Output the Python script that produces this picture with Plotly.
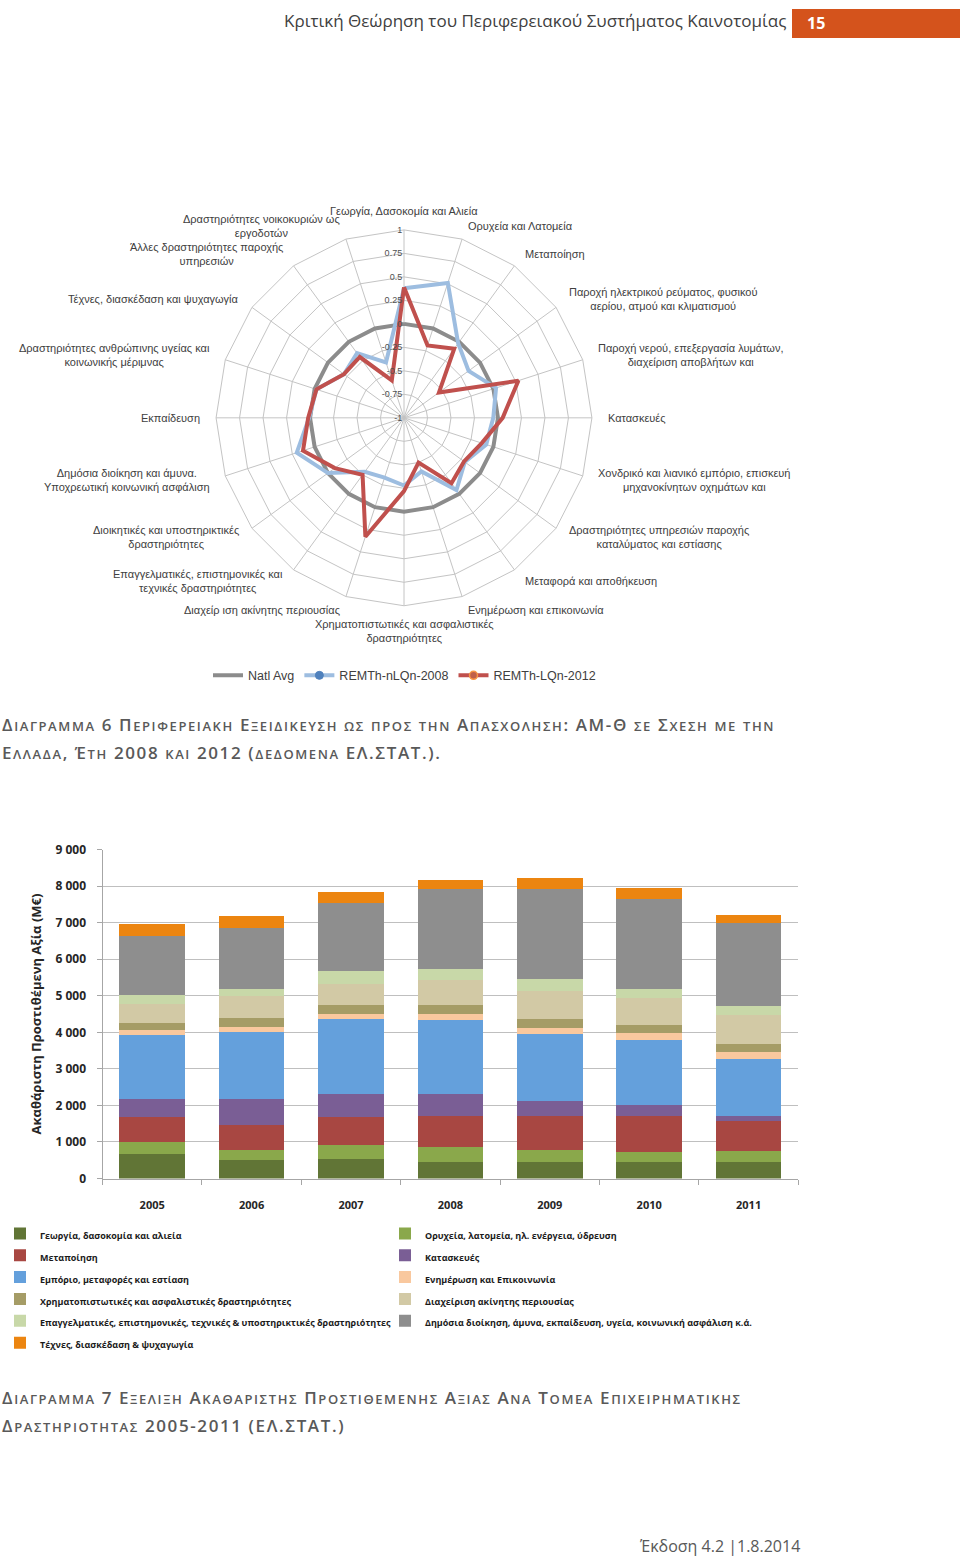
import math
import re
import plotly.graph_objects as go

# ---------------- Radar data (Διάγραμμα 6) ----------------
radar_categories = [
    "Γεωργία, Δασοκομία και Αλιεία",
    "Ορυχεία και Λατομεία",
    "Μεταποίηση",
    "Παροχή ηλεκτρικού ρεύματος, φυσικού<br>αερίου, ατμού και κλιματισμού",
    "Παροχή νερού, επεξεργασία λυμάτων,<br>διαχείριση αποβλήτων και",
    "Κατασκευές",
    "Χονδρικό και λιανικό εμπόριο, επισκευή<br>μηχανοκίνητων οχημάτων και",
    "Δραστηριότητες υπηρεσιών παροχής<br>καταλύματος και εστίασης",
    "Μεταφορά και αποθήκευση",
    "Ενημέρωση και επικοινωνία",
    "Χρηματοπιστωτικές και ασφαλιστικές<br>δραστηριότητες",
    "Διαχείρ ιση ακίνητης περιουσίας",
    "Επαγγελματικές, επιστημονικές και<br>τεχνικές δραστηριότητες",
    "Διοικητικές και υποστηρικτικές<br>δραστηριότητες",
    "Δημόσια διοίκηση και άμυνα.<br>Υποχρεωτική κοινωνική ασφάλιση",
    "Εκπαίδευση",
    "Δραστηριότητες ανθρώπινης υγείας και<br>κοινωνικής μέριμνας",
    "Τέχνες, διασκέδαση και ψυχαγωγία",
    "Άλλες δραστηριότητες παροχής<br>υπηρεσιών",
    "Δραστηριότητες νοικοκυριών ως<br>εργοδοτών",
]
natl_avg = [0] * 20
remth_2008 = [0.38, 0.51, -0.02, -0.15, 0.03, -0.05, -0.08, -0.20, -0.05, -0.40,
              -0.28, -0.33, -0.29, 0.00, 0.20, 0.01, -0.02, -0.21, -0.15, -0.38]
remth_2012 = [0.39, -0.19, -0.09, -0.54, 0.28, 0.05, -0.13, -0.21, -0.14, -0.50,
              -0.22, 0.33, -0.25, -0.09, 0.13, 0.02, -0.02, -0.21, -0.20, -0.58]
radial_ticks = [-1, -0.75, -0.5, -0.25, 0, 0.25, 0.5, 0.75, 1]

# ---------------- Bar data (Διάγραμμα 7) ----------------
years = ["2005", "2006", "2007", "2008", "2009", "2010", "2011"]
sector_names = [
    "Γεωργία, δασοκομία και αλιεία",
    "Ορυχεία, λατομεία, ηλ. ενέργεια, ύδρευση",
    "Μεταποίηση",
    "Κατασκευές",
    "Εμπόριο, μεταφορές και εστίαση",
    "Ενημέρωση και Επικοινωνία",
    "Χρηματοπιστωτικές και ασφαλιστικές δραστηριότητες",
    "Διαχείριση ακίνητης περιουσίας",
    "Επαγγελματικές, επιστημονικές, τεχνικές & υποστηρικτικές δραστηριότητες",
    "Δημόσια διοίκηση, άμυνα, εκπαίδευση, υγεία, κοινωνική ασφάλιση κ.ά.",
    "Τέχνες, διασκέδαση & ψυχαγωγία",
]
agri = [680, 500, 547, 455, 455, 455, 455]
mining = [320, 273, 364, 410, 337, 274, 292]
manuf = [685, 702, 774, 848, 921, 984, 829]
constr = [483, 692, 638, 601, 418, 291, 137]
trade = [1767, 1840, 2031, 2031, 1822, 1794, 1548]
info = [119, 137, 146, 164, 164, 192, 200]
finance = [209, 246, 237, 228, 237, 200, 219]
realestate = [519, 592, 592, 701, 765, 747, 783]
professional = [246, 209, 337, 301, 346, 255, 255]
public = [1603, 1676, 1876, 2186, 2460, 2459, 2278]
arts = [328, 328, 292, 255, 300, 301, 228]
sector_values = [agri, mining, manuf, constr, trade, info, finance,
                 realestate, professional, public, arts]
sector_colors = ["#617536", "#8aa84b", "#a84742", "#7a5e95", "#64a0dc", "#f9c89e",
                 "#a59c66", "#d2c9a5", "#c8d8a8", "#8e8e8e", "#ec8510"]

W, H = 960, 1558
# the capture maps figure y to picture y as about 8 + 0.9895*y
OFF, SCALE = 8.0, 0.9895


def fy(y_page):
    return (y_page - OFF) / SCALE


def py(y_page):
    """picture pixel (from top) -> paper fraction"""
    return (H - fy(y_page)) / H


fig = go.Figure()

theta_closed = radar_categories + [radar_categories[0]]
fig.add_trace(go.Scatterpolar(
    r=natl_avg + [natl_avg[0]], theta=theta_closed,
    mode="lines", name="Natl Avg", line=dict(color="#8c8c8c", width=4),
    legend="legend"))
fig.add_trace(go.Scatterpolar(
    r=remth_2008 + [remth_2008[0]], theta=theta_closed,
    mode="lines+markers", name="REMTh-nLQn-2008",
    line=dict(color="#9dbde0", width=4),
    marker=dict(color="#4f81bd", size=8, line=dict(color="#4f81bd", width=1)),
    legend="legend"))
fig.add_trace(go.Scatterpolar(
    r=remth_2012 + [remth_2012[0]], theta=theta_closed,
    mode="lines+markers", name="REMTh-LQn-2012",
    line=dict(color="#c0504d", width=4),
    marker=dict(color="#c0604a", size=8, line=dict(color="#f79646", width=1.5)),
    legend="legend"))

for name, vals, col in zip(sector_names, sector_values, sector_colors):
    fig.add_trace(go.Bar(x=years, y=vals,
                         name=f"<span style='font-size:9px'>{name}</span>",
                         marker=dict(color=col, line=dict(width=0)),
                         legend="legend2"))

cx, cy, R = 404, 417, 190
cyf = fy(cy)
fig.update_layout(
    polar=dict(
        domain=dict(x=[(cx - R) / W, (cx + R) / W], y=[(H - cyf - R) / H, (H - cyf + R) / H]),
        bgcolor="white",
        gridshape="linear",
        angularaxis=dict(direction="clockwise", rotation=90, type="category",
                         gridcolor="#c4c4c4", gridwidth=1, showline=True,
                         linecolor="#c4c4c4", linewidth=1, ticks="",
                         showticklabels=False),
        radialaxis=dict(range=[-1, 1], tickvals=radial_ticks,
                        ticktext=[f"{v:g}" for v in radial_ticks],
                        angle=90, tickangle=90, side="counterclockwise",
                        showline=False, ticks="",
                        gridcolor="#c4c4c4", gridwidth=1,
                        tickfont=dict(family="Liberation Sans, Arial", size=9, color="#505050")),
    ),
)

fig.update_layout(
    barmode="stack", bargap=0.34,
    xaxis=dict(domain=[102.5 / W, 798.3 / W], anchor="y", type="category",
               showline=True, linecolor="#a6a6a6", ticks="outside", tickson="boundaries",
               ticklen=5, tickcolor="#a6a6a6", showgrid=False, ticklabelstandoff=16,
               tickfont=dict(family="Open Sans, Lato, sans-serif", size=11, color="#262626", weight="bold")),
    yaxis=dict(domain=[py(1178), py(849)], anchor="x", range=[0, 9000], dtick=1000,
               tickformat=",d", showline=True, linecolor="#a6a6a6", ticks="outside",
               ticklen=5, tickcolor="#a6a6a6", gridcolor="#bfbfbf", zeroline=False,
               ticklabelstandoff=8,
               tickfont=dict(family="Open Sans, Lato, sans-serif", size=12, color="#262626", weight="bold"),
               title=dict(text="Ακαθάριστη Προστιθέμενη Αξία (Μ€)", standoff=10,
                          font=dict(family="Open Sans, Lato, sans-serif", size=13, color="#262626", weight="bold"))),
    separators=". ",
)

fig.update_layout(
    width=W, height=H, margin=dict(l=0, r=0, t=0, b=0),
    paper_bgcolor="white", plot_bgcolor="white",
    showlegend=True,
    legend=dict(orientation="h", x=208 / W, xanchor="left", y=py(660), yanchor="top",
                font=dict(family="Liberation Sans, Arial", size=12.5, color="#404040"),
                bgcolor="rgba(0,0,0,0)", traceorder="normal", itemwidth=30),
    legend2=dict(orientation="h", x=0, xanchor="left", y=py(1217), yanchor="top",
                 entrywidth=340, entrywidthmode="pixels", traceorder="normal", itemwidth=30,
                 font=dict(family="Open Sans, Lato, sans-serif", size=14.5, color="#1a1a1a", weight="bold"),
                 bgcolor="rgba(0,0,0,0)"),
)

annotations = []
label_font = dict(family="Liberation Sans Narrow, Arial Narrow, Liberation Sans, Arial", size=11, color="#404040")
n = len(radar_categories)
for i, lab in enumerate(radar_categories):
    a = math.radians(360 * i / n)
    s, c = math.sin(a), math.cos(a)
    if abs(s) < 0.05 and c > 0:
        x, y, xa, ya = cx, cy - R - 17, "center", "middle"
    elif abs(s) < 0.05 and c < 0:
        x, y, xa, ya = cx, cy + R + 8, "center", "top"
    else:
        x = cx + (R + 12) * s
        y = cy - (R + 12) * c
        xa = "left" if s > 0 else "right"
        ya = "middle"
    annotations.append(dict(text=lab, xref="paper", yref="paper", x=x / W, y=py(y),
                            xanchor=xa, yanchor=ya, align="center", showarrow=False,
                            font=label_font))


def smallcaps(text, big=17, small=13, ls=1.6):
    runs = re.findall(r"[a-zα-ωάέήίόύώϊϋΐΰς]+|[^a-zα-ωάέήίόύώϊϋΐΰς]+", text)
    out = []
    for r_ in runs:
        if r_[0].islower():
            out.append(f"<span style='font-size:{small}px;letter-spacing:{ls}px'>{r_.upper()}</span>")
        else:
            out.append(f"<span style='font-size:{big}px;letter-spacing:{ls}px'>{r_}</span>")
    return "".join(out)


cap_font = dict(family="Open Sans, Lato, sans-serif", size=17, color="#595959", weight=600)
captions = [
    ("Διαγραμμα 6 Περιφερειακη Εξειδικευση ως προς την Απασχοληση: ΑΜ-Θ σε Σχεση με την", 724),
    ("Ελλαδα, Έτη 2008 και 2012 (δεδομενα ΕΛ.ΣΤΑΤ.).", 752),
    ("Διαγραμμα 7 Εξελιξη Ακαθαριστης Προστιθεμενης Αξιας Ανα Τομεα Επιχειρηματικης", 1397),
    ("Δραστηριοτητας 2005-2011 (ΕΛ.ΣΤΑΤ.)", 1425),
]
for txt, ypx in captions:
    annotations.append(dict(text=smallcaps(txt), xref="paper", yref="paper", x=0, y=py(ypx),
                            xanchor="left", yanchor="middle", showarrow=False, font=cap_font))

annotations.append(dict(text="Κριτική Θεώρηση του Περιφερειακού Συστήματος Καινοτομίας",
                        xref="paper", yref="paper", x=788 / W, y=py(20),
                        xanchor="right", yanchor="middle", showarrow=False,
                        font=dict(family="Open Sans, Lato, sans-serif", size=17, color="#404040")))
annotations.append(dict(text="<b>15</b>", xref="paper", yref="paper", x=805 / W, y=py(22),
                        xanchor="left", yanchor="middle", showarrow=False,
                        font=dict(family="Open Sans, Lato, sans-serif", size=16, color="white")))
annotations.append(dict(text="Έκδοση 4.2 |1.8.2014", xref="paper", yref="paper", x=637 / W,
                        y=py(1546), xanchor="left", yanchor="middle", showarrow=False,
                        font=dict(family="Open Sans, Lato, sans-serif", size=16, color="#595959")))

shapes = [dict(type="rect", xref="paper", yref="paper", x0=792 / W, x1=1, y0=py(37),
               y1=min(1.0, py(7)), fillcolor="#d4531c", line=dict(width=0), layer="below")]

fig.update_layout(annotations=annotations, shapes=shapes)

fig.write_html(
    "out.html",
    config={"displayModeBar": False},
    post_script=(
        "document.documentElement.style.margin='0px';"
        "document.documentElement.style.overflow='hidden';"
        "document.body.style.margin='0px';document.body.style.padding='0px';"
        "document.body.style.overflow='hidden';"
        "var gd=document.getElementById('{plot_id}');"
        "gd.style.position='absolute';gd.style.left='0px';gd.style.top='0px';"
    ),
)
